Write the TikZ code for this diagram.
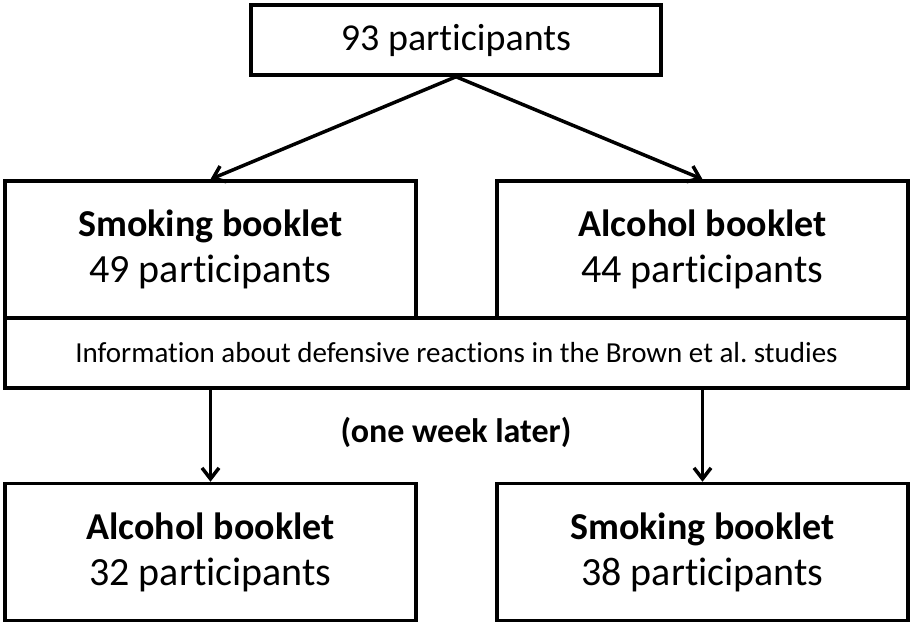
\documentclass[tikz,border=0pt]{standalone}
\usepackage{fontspec}
\setmainfont{Carlito}[Ligatures=NoCommon]
\usepackage{tikz}
\usetikzlibrary{positioning,arrows.meta}

\begin{document}
\begin{tikzpicture}[x=1pt, y=1pt,
      grp/.style={draw=black, fill=white, line width=3.5pt, rectangle,
                  minimum width=411pt, minimum height=137pt,
                  align=center, font=\fontsize{40}{46}\selectfont},
      flow/.style={draw=black, line width=3.5pt,
                   -{Straight Barb[length=11pt, width=17pt]}}]
    \useasboundingbox (0,0) rectangle (912,625);
    % Boxes
    \node[grp, minimum width=410pt, minimum height=70pt,
          font=\fontsize{38}{46}\selectfont] (all) at (456, 585) {93 participants};
    \node[grp] (smoke1) at (210.5, 375.5) {{\bfseries\fontsize{38}{46}\selectfont Smoking booklet}\\49 participants};
    \node[grp] (alc1)   at (702.5, 375.5) {{\bfseries\fontsize{38}{46}\selectfont Alcohol booklet}\\44 participants};
    \node[grp, minimum width=903pt, minimum height=70pt,
          font=\fontsize{29}{34}\selectfont] (info) at (456.5, 272)
      {Information about defensive reactions in the Brown et al.\ studies};
    \node[grp] (alc2)   at (210.5, 73) {{\bfseries\fontsize{38}{46}\selectfont Alcohol booklet}\\32 participants};
    \node[grp] (smoke2) at (702.5, 73) {{\bfseries\fontsize{38}{46}\selectfont Smoking booklet}\\38 participants};
    % Label
    \node[font=\fontsize{34}{40}\selectfont\bfseries] (later) at (456, 193) {(one week later)};
    % Arrows
    \draw[flow] (all.south) -- (smoke1.north);
    \draw[flow] (all.south) -- (alc1.north);
    \draw[flow] (info.south -| alc2.north) -- (alc2.north);
    \draw[flow] (info.south -| smoke2.north) -- (smoke2.north);
  \end{tikzpicture}
\end{document}
